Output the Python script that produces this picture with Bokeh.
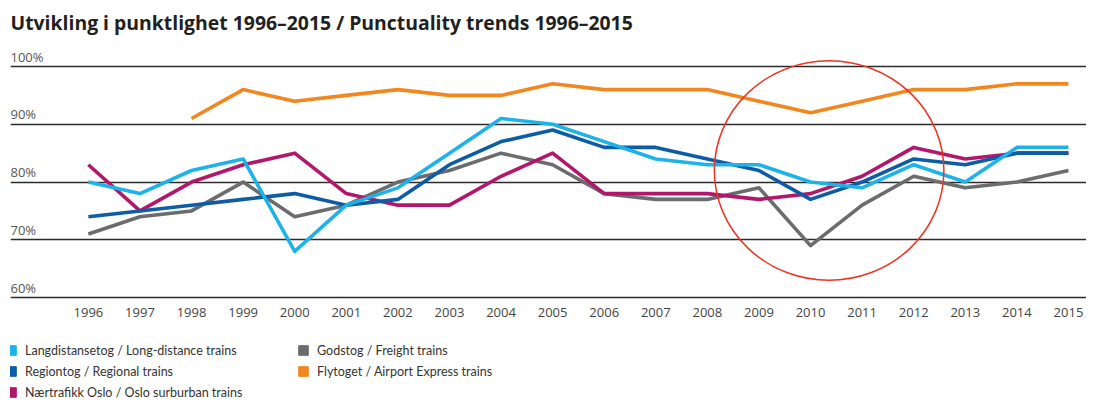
import math
from bokeh.plotting import figure
from bokeh.layouts import column
from bokeh.models import Range1d, FixedTicker, Legend, LegendItem, ColumnDataSource
from bokeh.core.properties import value
from bokeh.embed import file_html
from bokeh.resources import INLINE

years = list(range(1996, 2016))
long_distance = [80, 78, 82, 84, 68, 76, 79, 85, 91, 90, 87, 84, 83, 83, 80, 79, 83, 80, 86, 86]
regional = [74, 75, 76, 77, 78, 76, 77, 83, 87, 89, 86, 86, 84, 82, 77, 80, 84, 83, 85, 85]
oslo_suburban = [83, 75, 80, 83, 85, 78, 76, 76, 81, 85, 78, 78, 78, 77, 78, 81, 86, 84, 85, 85]
freight = [71, 74, 75, 80, 74, 76, 80, 82, 85, 83, 78, 77, 77, 79, 69, 76, 81, 79, 80, 82]
airport_years = list(range(1998, 2016))
airport_express = [91, 96, 94, 95, 96, 95, 95, 97, 96, 96, 96, 94, 92, 94, 96, 96, 97, 97]

y_ticks = [60, 70, 80, 90, 100]
y_tick_labels = ["60%", "70%", "80%", "90%", "100%"]

names = {
    "ld": "Langdistansetog / Long-distance trains",
    "reg": "Regiontog / Regional trains",
    "osl": "Nærtrafikk Oslo / Oslo surburban trains",
    "fr": "Godstog / Freight trains",
    "ap": "Flytoget / Airport Express trains",
}
colors = {
    "ld": "#1DB3EA",
    "reg": "#0D5CA6",
    "osl": "#B3176C",
    "fr": "#6B6C6E",
    "ap": "#F2871F",
}

# highlight circle (annotation)
circle_x, circle_y, circle_w, circle_h = 2010.36, 82.0, 4.45, 38.0

LFONT = "Lato"
TFONT = "Open Sans"
x_start, x_end = 1994.49, 2015.35

p = figure(frame_width=1076, frame_height=260, output_backend="svg", toolbar_location=None,
           x_range=Range1d(x_start, x_end), y_range=Range1d(59.5, 104.5),
           min_border_left=10, min_border_right=0, min_border_top=40, min_border_bottom=26)
p.outline_line_color = None
p.background_fill_color = "white"

p.title.text = "Utvikling i punktlighet 1996–2015 / Punctuality trends 1996–2015"
p.title.text_font = TFONT
p.title.text_font_size = "19.4px"
p.title.text_font_style = "bold"
p.title.text_color = "#231F20"

p.yaxis.visible = False
p.xgrid.grid_line_color = None
p.ygrid.ticker = FixedTicker(ticks=y_ticks)
p.ygrid.grid_line_color = "#2b2b2b"
p.ygrid.grid_line_width = 1.4

xa = p.xaxis[0]
xa.ticker = FixedTicker(ticks=years)
xa.axis_line_color = None
xa.major_tick_line_color = None
xa.minor_tick_line_color = None
xa.major_label_text_font = TFONT
xa.major_label_text_font_size = "13px"
xa.major_label_text_color = "#444444"
xa.major_label_standoff = 1

p.text(x=[x_start] * len(y_ticks), y=y_ticks, text=y_tick_labels,
       text_font=value(TFONT), text_font_size="13px", text_color="#555555",
       text_baseline="bottom", text_align="left", x_offset=0, y_offset=-1)

lw = 3.6
p.line(years, freight, line_color=colors["fr"], line_width=lw, line_join="round")
p.line(airport_years, airport_express, line_color=colors["ap"], line_width=lw, line_join="round")
p.line(years, oslo_suburban, line_color=colors["osl"], line_width=lw, line_join="round")
p.line(years, regional, line_color=colors["reg"], line_width=lw, line_join="round")
p.line(years, long_distance, line_color=colors["ld"], line_width=lw, line_join="round")

p.ellipse(x=[circle_x], y=[circle_y], width=circle_w, height=circle_h,
          fill_color=None, line_color="#EE3322", line_width=1.5)

# legend figure
p2 = figure(width=1078, height=77, output_backend="svg", toolbar_location=None,
            x_range=Range1d(0, 1), y_range=Range1d(0, 1),
            min_border_left=0, min_border_right=0, min_border_top=0, min_border_bottom=0)
p2.axis.visible = False
p2.grid.visible = False
p2.outline_line_color = None

def sq(key):
    src = ColumnDataSource(data=dict(l=[math.nan], r=[math.nan], b=[math.nan], t=[math.nan]))
    return p2.quad(left="l", right="r", bottom="b", top="t", source=src,
                   fill_color=colors[key], line_color=colors[key], line_width=1)

def make_legend(keys, loc):
    items = [LegendItem(label=names[k], renderers=[sq(k)]) for k in keys]
    lg = Legend(items=items, location=loc, orientation="vertical",
                border_line_color=None, background_fill_alpha=0,
                margin=0, padding=0, spacing=4, glyph_width=12, glyph_height=12,
                label_standoff=8, label_height=17,
                label_text_font=LFONT, label_text_font_size="12.5px",
                label_text_color="#333333")
    p2.add_layout(lg, "center")

make_legend(["ld", "reg", "osl"], (-5, 2.5))
make_legend(["fr", "ap"], (287, 23.5))

open("out.html", "w").write(file_html(column(p, p2), INLINE))
